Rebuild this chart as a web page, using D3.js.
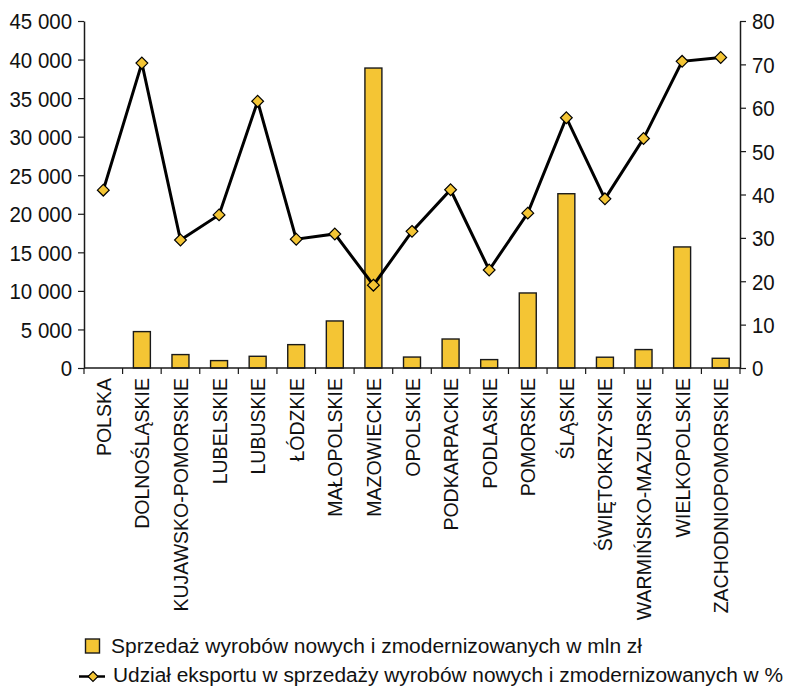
<!DOCTYPE html>
<html>
<head>
<meta charset="utf-8">
<script src="https://cdn.jsdelivr.net/npm/d3@7"></script>
<style>
  html, body { margin: 0; padding: 0; background: #fff; }
  svg { display: block; }
  text { font-family: "Liberation Sans", Arial, sans-serif; fill: #111; }
</style>
</head>
<body>
<svg id="chart" width="787" height="687"></svg>
<script>
// Voivodeships (first entry is the national total)
const regions = [
  "POLSKA", "DOLNOŚLĄSKIE", "KUJAWSKO-POMORSKIE", "LUBELSKIE", "LUBUSKIE",
  "ŁÓDZKIE", "MAŁOPOLSKIE", "MAZOWIECKIE", "OPOLSKIE", "PODKARPACKIE",
  "PODLASKIE", "POMORSKIE", "ŚLĄSKIE", "ŚWIĘTOKRZYSKIE", "WARMIŃSKO-MAZURSKIE",
  "WIELKOPOLSKIE", "ZACHODNIOPOMORSKIE"
];

// Sales of new and modernised products, mln zł (no bar for the national total)
const sales = [
  null, 4720, 1740, 960, 1520,
  3030, 6100, 38900, 1420, 3760,
  1090, 9730, 22600, 1400, 2390,
  15700, 1260
];

// Export share in those sales, %
const exportShare = [
  41.0, 70.3, 29.5, 35.3, 61.5,
  29.7, 30.9, 19.1, 31.5, 41.1,
  22.6, 35.7, 57.7, 39.0, 52.9,
  70.7, 71.6
];

const leftTicks = [0, 5000, 10000, 15000, 20000, 25000, 30000, 35000, 40000, 45000];
const rightTicks = [0, 10, 20, 30, 40, 50, 60, 70, 80];

const legendLabels = [
  "Sprzedaż wyrobów nowych i zmodernizowanych w mln zł",
  "Udział eksportu w sprzedaży wyrobów nowych i zmodernizowanych w %"
];

const barFill = "#F4C534";
const ink = "#1a1a1a";
const narrow = 0.93;   // horizontal squeeze giving a condensed look

const svg = d3.select("#chart");
const plot = { left: 84, right: 740, top: 21, bottom: 368 };

const x = d3.scaleBand().domain(regions).range([plot.left, plot.right]).paddingInner(0.56).paddingOuter(0.28);
const xOuter = d3.scaleBand().domain(regions).range([plot.left, plot.right]);
const yL = d3.scaleLinear().domain([0, 45000]).range([plot.bottom, plot.top]);
const yR = d3.scaleLinear().domain([0, 80]).range([plot.bottom, plot.top]);

const fmt = v => d3.format(",")(v).replace(/,/g, " ");
const fontSize = 22;

// Left axis
const gL = svg.append("g").attr("transform", `translate(${plot.left},0)`)
  .call(d3.axisLeft(yL).tickValues(leftTicks).tickFormat(fmt).tickSize(6).tickSizeOuter(0).tickPadding(6));
// Right axis
const gR = svg.append("g").attr("transform", `translate(${plot.right},0)`)
  .call(d3.axisRight(yR).tickValues(rightTicks).tickSize(6).tickSizeOuter(0).tickPadding(6));

[gL, gR].forEach(g => {
  g.attr("font-family", null).attr("font-size", null);
  g.select(".domain").attr("stroke", ink).attr("stroke-width", 1.5);
  g.selectAll(".tick line").attr("stroke", ink).attr("stroke-width", 1.2);
  g.selectAll(".tick text")
    .attr("font-size", fontSize)
    .attr("fill", "#111")
    .attr("dy", "0.36em")
    .attr("x", function () { return +d3.select(this).attr("x") / narrow; })
    .attr("transform", `scale(${narrow},1)`);
});

// Bars
svg.append("g").selectAll("rect")
  .data(regions.map((r, i) => ({ r, v: sales[i] })).filter(d => d.v != null))
  .join("rect")
  .attr("x", d => x(d.r))
  .attr("width", x.bandwidth())
  .attr("y", d => yL(d.v))
  .attr("height", d => yL(0) - yL(d.v))
  .attr("fill", barFill)
  .attr("stroke", ink)
  .attr("stroke-width", 1.4);

// Category axis with ticks at band boundaries
const gX = svg.append("g");
gX.append("line")
  .attr("x1", plot.left).attr("x2", plot.right)
  .attr("y1", plot.bottom).attr("y2", plot.bottom)
  .attr("stroke", ink).attr("stroke-width", 1.5);
const boundaries = regions.map(r => xOuter(r)).concat([plot.right]);
gX.selectAll("line.tk").data(boundaries).join("line")
  .attr("class", "tk")
  .attr("x1", d => d).attr("x2", d => d)
  .attr("y1", plot.bottom).attr("y2", plot.bottom + 6)
  .attr("stroke", ink).attr("stroke-width", 1.2);
gX.selectAll("text").data(regions).join("text")
  .attr("transform", d => `translate(${xOuter(d) + xOuter.bandwidth() / 2 + 7.5},${plot.bottom + 10}) rotate(-90) scale(${narrow},1)`)
  .attr("text-anchor", "end")
  .attr("font-size", 21)
  .text(d => d);

// Export share line
const pts = regions.map((r, i) => [xOuter(r) + xOuter.bandwidth() / 2, yR(exportShare[i])]);
svg.append("path")
  .attr("d", d3.line()(pts))
  .attr("fill", "none")
  .attr("stroke", "#000")
  .attr("stroke-width", 3)
  .attr("stroke-linejoin", "miter");

const diamond = d3.symbol().type(d3.symbolDiamond2).size(88);
svg.append("g").selectAll("path")
  .data(pts)
  .join("path")
  .attr("transform", d => `translate(${d[0]},${d[1]})`)
  .attr("d", diamond)
  .attr("fill", barFill)
  .attr("stroke", "#000")
  .attr("stroke-width", 1.2);

// Legend
const lg = svg.append("g");
lg.append("rect").attr("x", 85.5).attr("y", 639).attr("width", 14).attr("height", 14)
  .attr("fill", barFill).attr("stroke", ink).attr("stroke-width", 1.4);
lg.append("text").attr("x", 111).attr("y", 653).attr("font-size", 20)
  .attr("textLength", 531).attr("lengthAdjust", "spacingAndGlyphs")
  .text(legendLabels[0]);
lg.append("line").attr("x1", 79).attr("x2", 105).attr("y1", 676.5).attr("y2", 676.5)
  .attr("stroke", "#000").attr("stroke-width", 2.5);
lg.append("path").attr("transform", "translate(93,676.5)").attr("d", d3.symbol().type(d3.symbolDiamond2).size(64))
  .attr("fill", barFill).attr("stroke", "#000").attr("stroke-width", 1.1);
lg.append("text").attr("x", 113).attr("y", 682).attr("font-size", 20)
  .attr("textLength", 670).attr("lengthAdjust", "spacingAndGlyphs")
  .text(legendLabels[1]);
</script>
</body>
</html>
